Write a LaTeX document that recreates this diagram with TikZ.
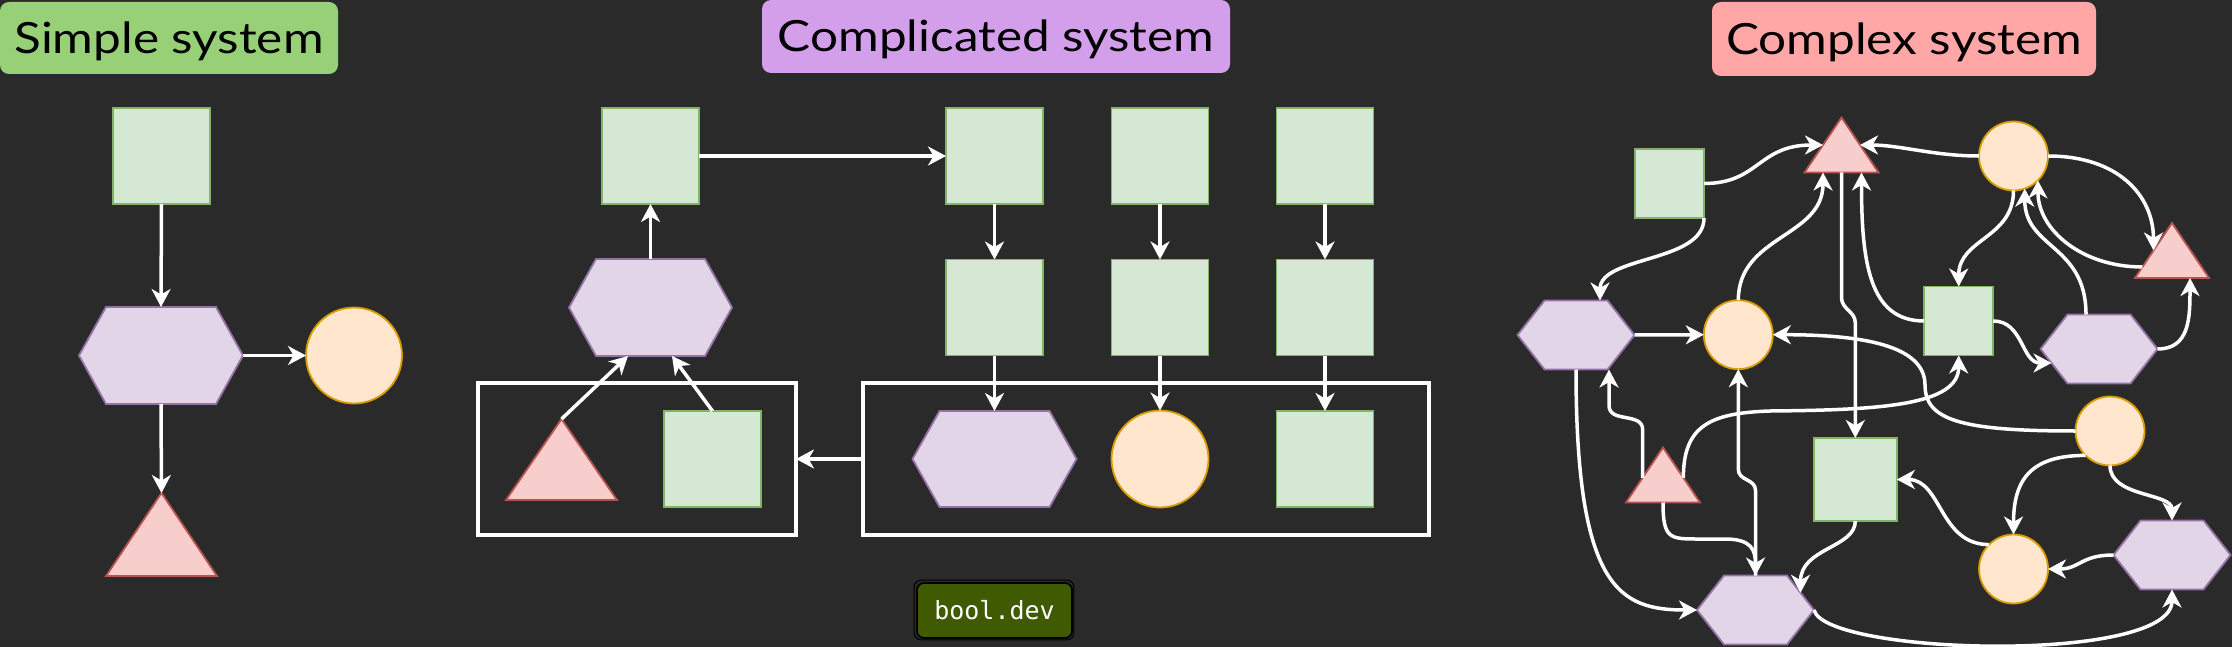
\documentclass[tikz,border=0pt]{standalone}
\usepackage{fontspec}
\usepackage{graphicx}
\usetikzlibrary{arrows.meta,calc}
\newfontfamily\hwfont{Lato}
\newfontfamily\bmono{DejaVu Sans Mono}
\definecolor{bg}{HTML}{2A2A2A}
\definecolor{sqf}{HTML}{D5E8D4}
\definecolor{sqd}{HTML}{82B366}
\definecolor{hxf}{HTML}{E1D5E7}
\definecolor{hxd}{HTML}{9673A6}
\definecolor{cif}{HTML}{FFE6CC}
\definecolor{cid}{HTML}{D79B00}
\definecolor{trf}{HTML}{F8CECC}
\definecolor{trd}{HTML}{B85450}
\definecolor{tgreen}{HTML}{97D077}
\definecolor{tpurple}{HTML}{D39FEA}
\definecolor{tpink}{HTML}{FFA6A6}
\definecolor{olive}{HTML}{3F5A00}
\tikzset{
  ghost/.style={rectangle,inner sep=0pt,outer sep=0pt,draw=none},
  sq/.style={rectangle,inner sep=0pt,outer sep=0pt,fill=sqf,draw=sqd,line width=1.8pt},
  circ/.style={circle,inner sep=0pt,outer sep=0pt,fill=cif,draw=cid,line width=1.8pt},
  hexst/.style={fill=hxf,draw=hxd,line width=1.8pt},
  trist/.style={fill=trf,draw=trd,line width=1.8pt},
  cont/.style={rectangle,draw=white,line width=3.5pt,inner sep=0pt,outer sep=0pt},
  conn/.style={draw=white,line width=3.5pt,-{Stealth[length=18pt,width=19pt,inset=5.5pt]}},
  ttl/.style={rectangle,rounded corners=9pt,inner sep=0pt,text=black,font=\hwfont\fontsize{43}{43}\selectfont,text height=31pt,text depth=0pt},
  boolbox/.style={rectangle,rounded corners=7pt,fill=olive,draw=black,line width=1.8pt,text=white,font=\bmono\fontsize{25}{25}\selectfont,minimum width=155pt,minimum height=55pt,inner sep=0pt}
}
\newcommand\mktri[5]{%
  \node[ghost,minimum width=#4pt,minimum height=#5pt] (#1) at (#2,#3) {};
  \filldraw[trist] (#1.south west) -- (#1.north) -- (#1.south east) -- cycle;}
\newcommand\mkhex[5]{%
  \node[ghost,minimum width=#4pt,minimum height=#5pt] (#1) at (#2,#3) {};
  \filldraw[hexst] ($(#1.north west)+(27,0)$) -- ($(#1.north east)+(-27,0)$) -- (#1.east) -- ($(#1.south east)+(-27,0)$) -- ($(#1.south west)+(27,0)$) -- (#1.west) -- cycle;}
\begin{document}
\begin{tikzpicture}[x=1pt,y=-1pt]
\useasboundingbox (0,0) rectangle (2232,647);
\fill[bg] (0,0) rectangle (2232,647);

% titles
\node[ttl,fill=tgreen,minimum width=338pt,minimum height=72pt] (tS) at (169,38) {\scalebox{1.15}[1]{Simple system}};
\node[ttl,fill=tpurple,minimum width=468pt,minimum height=73pt] (tC) at (996,36.5) {\scalebox{1.15}[1]{Complicated system}};
\node[ttl,fill=tpink,minimum width=384pt,minimum height=74pt] (tX) at (1904,39) {\scalebox{1.15}[1]{Complex system}};
\node[boolbox] (bd) at (994.5,610.5) {bool.dev};
\draw[black,line width=1pt,rounded corners=7pt] ($(bd.south west)+(-2,1)$) rectangle ($(bd.north east)+(1,-2)$);

% ---------- simple system
\node[sq,minimum width=97pt,minimum height=96pt] (ss1) at (161.5,156) {};
\mkhex{sh1}{161}{355.5}{164}{97}
\node[circ,minimum size=96pt] (sc1) at (354,355.5) {};
\mktri{st1}{161.5}{534.5}{111}{83}
\draw[conn] (ss1.south) -- (sh1.north);
\draw[conn] (sh1.east) -- (sc1.west);
\draw[conn] (sh1.south) -- (st1.north);

% ---------- complicated system
\node[sq,minimum width=97pt,minimum height=96pt] (cs0) at (650.5,156) {};
\mkhex{ch0}{650.5}{307.5}{163}{97}
\node[cont,minimum width=318pt,minimum height=152pt] (L) at (637,459) {};
\mktri{ct0}{561.5}{459.5}{111}{81}
\node[sq,minimum width=97pt,minimum height=96pt] (cs5) at (712.5,459) {};
\node[cont,minimum width=566pt,minimum height=152pt] (R) at (1146,459) {};
\node[sq,minimum width=97pt,minimum height=96pt] (cs1) at (994.5,156) {};
\node[sq,minimum width=97pt,minimum height=96pt] (cs2) at (1160,156) {};
\node[sq,minimum width=97pt,minimum height=96pt] (cs3) at (1325,156) {};
\node[sq,minimum width=97pt,minimum height=96pt] (cr1) at (994.5,307.5) {};
\node[sq,minimum width=97pt,minimum height=96pt] (cr2) at (1160,307.5) {};
\node[sq,minimum width=97pt,minimum height=96pt] (cr3) at (1325,307.5) {};
\mkhex{ch1}{994.5}{459}{164}{96}
\node[circ,minimum size=97pt] (cc1) at (1160,459) {};
\node[sq,minimum width=97pt,minimum height=96pt] (cs6) at (1325,459) {};
\draw[conn] (ch0.north) -- (cs0.south);
\draw[conn] (ct0.north) -- ($(ch0.south)+(-22.5,0)$);
\draw[conn] (cs5.north) -- ($(ch0.south)+(21.5,0)$);
\draw[conn] (cs0.east) -- (cs1.west);
\draw[conn] (cs1.south) -- (cr1.north);
\draw[conn] (cs2.south) -- (cr2.north);
\draw[conn] (cs3.south) -- (cr3.north);
\draw[conn] (cr1.south) -- (ch1.north);
\draw[conn] (cr2.south) -- (cc1.north);
\draw[conn] (cr3.south) -- (cs6.north);
\draw[conn] (R.west) -- (L.east);

% ---------- complex system
\node[sq,minimum width=69pt,minimum height=69pt] (A) at (1669.5,183.5) {};
\node[sq,minimum width=69pt,minimum height=69pt] (B) at (1958.7,321) {};
\node[sq,minimum width=83pt,minimum height=83pt] (D) at (1855.3,479.5) {};
\mktri{T1}{1841.5}{145}{74}{55}
\mktri{T2}{2172}{250.5}{74}{55}
\mktri{T3}{1663}{475}{74}{55}
\node[circ,minimum size=69pt] (C1) at (2013.5,156) {};
\node[circ,minimum size=69pt] (C3) at (1738.3,334.7) {};
\node[circ,minimum size=69pt] (C2) at (2110,431) {};
\node[circ,minimum size=69pt] (C4) at (2013.5,569) {};
\mkhex{H1}{1576}{335}{117}{69}
\mkhex{H2}{2099}{349}{117}{69}
\mkhex{H3}{1755.5}{610}{117}{69}
\mkhex{H4}{2172}{555}{117}{69}

\draw[conn] (A.east) .. controls +(55,0) and +(-65,0) .. ($(T1.south west)!0.5!(T1.north)$);
\draw[conn] (A.south east) .. controls +(0,45) and +(0,-45) .. ($(H1.north)+(24,0)$);
\draw[conn] (C1.west) .. controls +(-45,0) and +(40,0) .. ($(T1.south east)!0.5!(T1.north)$);
\draw[conn] (C3.north) .. controls +(0,-65) and +(0,65) .. ($(T1.south)+(-18.5,0)$);
\draw[conn] (T1.south) -- ++(0,125) .. controls +(0,12) and +(0,-12) .. ($(D.north)+(0,-115)$) -- (D.north);
\draw[conn] (B.west) .. controls +(-55,0) and +(0,90) .. ($(T1.south)+(20,0)$);
\draw[conn] (C1.south) .. controls +(0,48) and +(0,-48) .. (B.north);
\draw[conn] (C1.east) .. controls +(70,0) and +(0,-55) .. ($(T2.south west)!0.5!(T2.north)$);
\draw[conn] ($(T2.south west)!0.2!(T2.north)$) .. controls +(-60,0) and +(0,50) .. (C1.south east);
\draw[conn] ($(H2.north)+(-13,0)$) .. controls +(0,-70) and +(0,60) .. (C1.-71);
\draw[conn] (B.east) .. controls +(30,0) and +(-30,0) .. ($(H2.west)+(11,14)$);
\draw[conn] (H2.east) .. controls +(32,0) and +(0,40) .. ($(T2.south)+(18,0)$);
\draw[conn] ($(T3.south east)!0.45!(T3.north)$) .. controls +(0,-52) and (1710,413) .. (1770,411) .. controls (1880,410) and +(0,50) .. (B.south);
\draw[conn] (C2.west) .. controls +(-115,0) and (1925,420) .. (1925,385) .. controls (1925,345) and +(88,0) .. (C3.east);
\draw[conn] (H1.east) -- (C3.west);
\draw[conn] (H1.south) .. controls +(0,220) and +(-77,0) .. (H3.west);
\draw[conn] ($(T3.south west)!0.45!(T3.north)$) -- ++(0,-48) .. controls +(0,-18) and +(0,18) .. ($(H1.south)+(33,36)$) -- ($(H1.south)+(33,0)$);
\draw[conn] (T3.south) .. controls +(0,37) and (1670,539) .. (1700,539) -- (1725,539) .. controls (1752,539) and +(0,-25) .. (H3.north);
\draw[conn] (H3.north) -- ++(0,-85) .. controls +(0,-12) and +(0,12) .. ($(C3.south)+(0,100)$) -- (C3.south);
\draw[conn] (D.south) .. controls +(0,27) and +(0,-45) .. ($(H3.east)+(-13.5,-17.25)$);
\draw[conn] (C4.north west) .. controls +(-50,0) and +(45,0) .. (D.east);
\draw[conn] (C2.south west) .. controls +(-55,0) and +(0,-55) .. (C4.north);
\draw[conn] (C2.south) .. controls +(0,32) and +(0,-28) .. (H4.north);
\draw[conn] (H4.west) .. controls +(-33,0) and +(32,0) .. (C4.east);
\draw[conn] (H3.east) .. controls +(11,45) and +(0,75) .. (H4.south);
\end{tikzpicture}
\end{document}
